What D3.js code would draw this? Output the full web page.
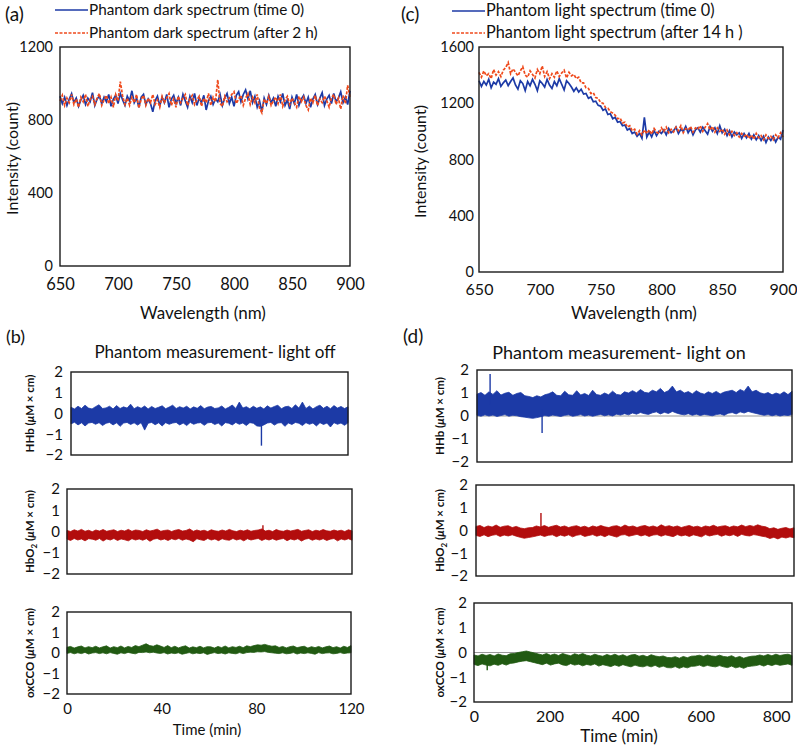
<!DOCTYPE html>
<html><head><meta charset="utf-8">
<script src="https://cdn.jsdelivr.net/npm/d3@7"></script>
<style>
body{margin:0;background:#fff}
text{font-family:Lato,"Open Sans",sans-serif;fill:#111}
</style>
</head><body>
<svg id="c" width="797" height="747"></svg>
<script>
// ---------- DATA ----------
// Spectra sampled every 2 nm from 650 to 900 nm
const wavelengths = d3.range(650, 901, 2);
const wlTicks = [650, 700, 750, 800, 850, 900];
const darkTicks = [0, 400, 800, 1200];
const lightTicks = [0, 400, 800, 1200, 1600];

const darkTime0 = [
930,890,925,880,915,945,895,920,875,910,
935,885,920,900,950,880,915,930,890,925,
900,940,875,915,935,890,945,910,880,930,
905,960,895,920,870,925,940,885,915,890,
845,905,930,880,925,895,940,870,915,935,
890,925,880,940,905,870,930,895,945,880,
920,895,935,855,905,930,885,915,900,940,
880,920,945,890,925,875,935,955,900,940,
965,915,960,895,930,870,905,845,920,885,
935,895,920,875,930,900,945,880,910,860,
925,890,940,880,915,935,890,925,870,915,
940,885,920,950,880,915,935,890,945,900,
920,955,895,925,885,960];
const dark2h = [
905,935,880,920,895,940,885,915,870,925,
900,940,875,915,930,885,920,945,880,910,
935,890,925,870,940,905,1010,930,885,920,
880,925,895,940,865,915,935,880,920,895,
940,885,910,870,930,895,920,945,880,915,
870,930,895,920,940,880,915,935,885,910,
930,875,920,895,945,880,925,900,1020,890,
875,930,900,920,940,955,890,915,935,880,
920,945,885,925,895,940,865,840,915,890,
930,880,905,925,890,940,875,910,930,885,
920,895,870,930,900,925,880,855,920,895,
935,880,915,895,930,905,870,920,940,885,
920,860,935,890,990,925];
const lightTime0 = [
1360,1320,1355,1330,1370,1310,1350,1335,1375,1320,
1345,1365,1325,1355,1380,1330,1300,1360,1340,1290,
1355,1325,1370,1335,1290,1360,1340,1315,1370,1330,
1305,1355,1325,1375,1335,1295,1360,1340,1315,1285,
1310,1280,1300,1265,1270,1235,1245,1210,1215,1185,
1180,1150,1160,1120,1125,1090,1100,1065,1070,1040,
1045,1010,1020,985,995,965,985,950,1100,960,
995,960,1005,970,1000,985,1010,975,1020,990,
1005,1030,985,1015,1000,1035,990,1020,975,1010,
1025,995,1030,1005,980,1035,1000,1025,985,1040,
990,1015,970,1005,960,995,975,990,950,985,
955,985,945,975,940,970,935,965,920,960,
935,965,925,960,945,1010];
const light14h = [
1420,1385,1430,1395,1410,1375,1440,1400,1425,1390,
1435,1455,1490,1410,1445,1420,1395,1430,1460,1400,
1385,1430,1405,1380,1440,1410,1465,1390,1425,1375,
1410,1385,1430,1390,1415,1435,1380,1420,1395,1405,
1375,1385,1345,1345,1310,1305,1270,1275,1240,1235,
1205,1200,1170,1165,1140,1130,1115,1090,1095,1060,
1065,1030,1040,1005,1015,980,1005,975,1010,985,
1010,980,1020,995,985,1025,1000,1030,990,1015,
995,1030,1005,1040,990,1020,1010,1035,995,1025,
1015,1040,1000,1030,1055,1010,1035,995,1025,1000,
1015,980,1010,975,1000,970,990,960,985,965,
980,950,975,945,985,955,970,940,975,950,
965,940,975,955,990,960];

// Time series: upper / lower envelope of the noise band, equally spaced in time
const concTicks = [-2, -1, 0, 1, 2];
const offTimeTicks = [0, 40, 80, 120];
const onTimeTicks = [0, 200, 400, 600, 800];
const offDuration = 120;
const onDuration = 842;

const offHHbHi = [0.30,0.22,0.35,0.24,0.40,0.26,0.22,0.33,0.42,0.24,0.27,0.35,0.22,0.38,0.24,0.32,0.26,0.45,0.23,0.33,0.25,0.36,0.22,0.34,0.24,0.30,0.37,0.23,0.31,0.40,0.24,0.33,0.26,0.35,0.22,0.32,0.25,0.38,0.23,0.31,0.34,0.24,0.27,0.36,0.22,0.30,0.41,0.24,0.55,0.26,0.33,0.23,0.35,0.25,0.32,0.22,0.37,0.26,0.34,0.40,0.23,0.32,0.35,0.24,0.42,0.26,0.55,0.24,0.36,0.22,0.33,0.40,0.25,0.35,0.23,0.38,0.26,0.34,0.24,0.32];
const offHHbLo = [-0.50,-0.42,-0.55,-0.45,-0.60,-0.46,-0.43,-0.52,-0.44,-0.58,-0.47,-0.43,-0.55,-0.45,-0.62,-0.46,-0.43,-0.53,-0.45,-0.56,-0.44,-0.80,-0.47,-0.43,-0.54,-0.45,-0.60,-0.44,-0.52,-0.46,-0.43,-0.55,-0.46,-0.58,-0.43,-0.52,-0.46,-0.44,-0.57,-0.45,-0.43,-0.53,-0.46,-0.60,-0.44,-0.47,-0.55,-0.43,-0.52,-0.46,-0.58,-0.44,-0.47,-0.60,-0.62,-0.55,-0.46,-0.43,-0.56,-0.46,-0.44,-0.62,-0.46,-0.53,-0.43,-0.47,-0.58,-0.44,-0.52,-0.46,-0.60,-0.44,-0.53,-0.46,-0.65,-0.44,-0.52,-0.46,-0.57,-0.45];
const offHHbSpikes = [[82.5, -0.3, -1.55]];

const offHbO2Hi = [0.05,0.00,0.08,0.02,0.10,0.01,0.06,-0.01,0.07,0.02,0.09,0.01,0.05,0.08,0.00,0.06,0.02,0.10,0.01,0.07,0.05,0.00,0.08,0.02,0.06,0.11,0.01,0.05,0.07,0.00,0.06,0.09,0.02,0.05,0.12,0.01,0.07,0.02,0.06,0.00,0.08,0.03,0.01,0.07,0.02,0.10,0.03,0.00,0.06,0.02,0.08,0.01,0.05,0.07,0.12,0.02,0.06,0.00,0.09,0.03,0.01,0.07,0.02,0.06,0.10,0.01,0.05,0.08,0.00,0.06,0.02,0.09,0.03,0.01,0.07,0.02,0.06,0.00,0.08,0.03];
const offHbO2Lo = [-0.36,-0.42,-0.33,-0.40,-0.35,-0.44,-0.34,-0.36,-0.41,-0.33,-0.45,-0.35,-0.40,-0.33,-0.42,-0.35,-0.39,-0.44,-0.34,-0.40,-0.35,-0.41,-0.34,-0.46,-0.36,-0.33,-0.40,-0.35,-0.42,-0.34,-0.39,-0.33,-0.41,-0.35,-0.40,-0.48,-0.34,-0.39,-0.42,-0.33,-0.40,-0.35,-0.43,-0.34,-0.39,-0.41,-0.33,-0.40,-0.35,-0.44,-0.34,-0.40,-0.36,-0.33,-0.42,-0.35,-0.40,-0.34,-0.41,-0.36,-0.33,-0.43,-0.35,-0.40,-0.34,-0.45,-0.36,-0.33,-0.41,-0.35,-0.40,-0.34,-0.42,-0.36,-0.33,-0.44,-0.35,-0.40,-0.34,-0.41];
const offHbO2Spikes = [[82.5, 0.0, 0.3]];

const offOxHi = [0.28,0.32,0.24,0.30,0.34,0.25,0.31,0.26,0.33,0.25,0.30,0.35,0.24,0.31,0.26,0.34,0.25,0.32,0.27,0.36,0.31,0.38,0.45,0.36,0.33,0.40,0.34,0.27,0.36,0.26,0.33,0.25,0.31,0.35,0.24,0.30,0.26,0.33,0.25,0.31,0.30,0.24,0.32,0.26,0.34,0.25,0.31,0.27,0.33,0.26,0.35,0.31,0.36,0.40,0.38,0.42,0.37,0.33,0.35,0.27,0.32,0.25,0.31,0.34,0.26,0.30,0.33,0.24,0.31,0.26,0.32,0.25,0.30,0.34,0.26,0.31,0.24,0.33,0.27,0.36];
const offOxLo = [-0.02,0.02,-0.04,0.01,-0.03,0.03,-0.05,0.00,0.02,-0.03,0.01,-0.04,0.02,-0.02,-0.06,0.01,-0.03,0.03,-0.01,-0.04,0.03,0.02,0.05,0.01,0.04,0.00,-0.02,0.02,-0.05,0.00,-0.03,0.01,-0.06,-0.02,0.02,-0.04,0.00,-0.03,0.01,-0.07,-0.02,0.02,-0.03,0.00,-0.05,0.01,-0.02,-0.04,0.02,-0.03,0.02,0.04,0.03,0.06,0.05,0.07,0.03,0.01,-0.01,-0.03,0.01,-0.04,-0.02,0.02,-0.05,0.00,-0.03,0.01,-0.02,-0.06,0.02,-0.03,0.00,0.01,-0.04,-0.02,0.02,-0.03,0.00,0.01];
const offOxSpikes = [];

const onHHbHi = [0.95,1.02,0.90,1.05,0.94,1.10,0.91,0.99,1.03,0.90,0.98,1.02,0.88,0.85,0.80,0.88,0.83,0.92,0.97,1.05,0.90,0.88,1.08,0.92,0.90,1.10,0.91,0.98,0.89,1.12,0.93,0.90,1.00,0.92,1.08,0.94,0.91,1.05,1.00,1.10,1.01,1.15,1.03,1.00,1.12,1.05,1.20,1.02,1.10,1.30,1.05,1.12,1.00,1.06,0.96,1.10,1.00,0.95,1.05,0.98,1.07,0.96,1.04,1.08,1.12,1.02,1.15,1.07,1.30,1.05,1.12,1.01,0.96,1.02,0.92,1.00,0.94,1.05,0.93,1.08];
const onHHbLo = [0.03,-0.01,0.05,0.00,0.04,-0.02,0.02,0.06,-0.01,0.03,0.01,-0.03,-0.05,-0.08,-0.10,-0.07,-0.03,0.02,-0.01,0.04,0.01,-0.02,0.03,0.05,-0.01,0.02,0.06,0.00,0.04,-0.01,0.03,0.07,0.01,0.05,0.00,0.08,0.04,0.10,0.05,0.13,0.08,0.15,0.10,0.07,0.14,0.18,0.09,0.16,0.11,0.20,0.13,0.08,0.05,0.10,0.03,0.08,0.02,0.07,0.04,0.01,0.06,0.09,0.03,0.12,0.15,0.09,0.18,0.13,0.20,0.15,0.11,0.07,0.03,0.06,0.01,0.05,0.00,0.04,0.02,0.06];
const onHHbSpikes = [[35, 0.5, 1.83], [174, 0.3, -0.74]];

const onHbO2Hi = [0.18,0.22,0.13,0.20,0.15,0.24,0.14,0.19,0.21,0.13,0.18,0.11,0.08,0.12,0.13,0.20,0.15,0.22,0.14,0.19,0.23,0.15,0.20,0.13,0.18,0.21,0.14,0.19,0.12,0.20,0.15,0.22,0.16,0.13,0.19,0.21,0.14,0.24,0.16,0.20,0.13,0.19,0.22,0.15,0.20,0.14,0.25,0.17,0.21,0.15,0.20,0.13,0.18,0.22,0.15,0.19,0.13,0.20,0.16,0.23,0.15,0.19,0.21,0.14,0.20,0.16,0.24,0.17,0.22,0.18,0.25,0.19,0.16,0.08,0.12,0.05,0.10,0.13,0.07,0.12];
const onHbO2Lo = [-0.22,-0.26,-0.19,-0.27,-0.21,-0.18,-0.26,-0.20,-0.24,-0.19,-0.25,-0.30,-0.34,-0.31,-0.28,-0.24,-0.20,-0.26,-0.21,-0.19,-0.27,-0.20,-0.25,-0.19,-0.28,-0.21,-0.18,-0.26,-0.22,-0.18,-0.25,-0.20,-0.27,-0.19,-0.24,-0.29,-0.20,-0.18,-0.25,-0.21,-0.17,-0.24,-0.19,-0.26,-0.20,-0.18,-0.25,-0.19,-0.23,-0.27,-0.18,-0.24,-0.20,-0.26,-0.19,-0.23,-0.28,-0.18,-0.24,-0.20,-0.17,-0.25,-0.19,-0.23,-0.18,-0.26,-0.17,-0.22,-0.24,-0.18,-0.21,-0.25,-0.28,-0.35,-0.30,-0.37,-0.29,-0.33,-0.28,-0.32];
const onHbO2Spikes = [[172, 0.1, 0.77]];

const onOxHi = [-0.10,-0.14,-0.07,-0.12,-0.08,-0.14,-0.06,-0.11,-0.13,-0.05,-0.04,0.00,0.03,0.06,0.02,-0.02,-0.06,-0.10,-0.04,-0.11,-0.06,-0.12,-0.04,-0.09,-0.13,-0.05,-0.10,-0.04,-0.11,-0.14,-0.07,-0.12,-0.15,-0.08,-0.13,-0.07,-0.14,-0.09,-0.16,-0.10,-0.08,-0.15,-0.11,-0.17,-0.09,-0.14,-0.17,-0.14,-0.20,-0.21,-0.17,-0.23,-0.16,-0.21,-0.15,-0.14,-0.11,-0.16,-0.10,-0.14,-0.16,-0.11,-0.16,-0.18,-0.13,-0.21,-0.16,-0.23,-0.18,-0.15,-0.14,-0.10,-0.14,-0.08,-0.13,-0.07,-0.12,-0.09,-0.07,-0.12];
const onOxLo = [-0.48,-0.53,-0.46,-0.51,-0.54,-0.47,-0.52,-0.45,-0.51,-0.44,-0.42,-0.38,-0.35,-0.33,-0.37,-0.41,-0.45,-0.49,-0.43,-0.51,-0.46,-0.43,-0.50,-0.53,-0.45,-0.51,-0.47,-0.54,-0.48,-0.52,-0.46,-0.55,-0.49,-0.53,-0.57,-0.50,-0.56,-0.49,-0.54,-0.58,-0.51,-0.56,-0.58,-0.53,-0.58,-0.52,-0.60,-0.55,-0.61,-0.62,-0.57,-0.64,-0.58,-0.62,-0.56,-0.55,-0.51,-0.57,-0.52,-0.56,-0.58,-0.53,-0.58,-0.61,-0.55,-0.62,-0.58,-0.64,-0.57,-0.55,-0.53,-0.49,-0.55,-0.48,-0.53,-0.47,-0.52,-0.49,-0.46,-0.52];
const onOxSpikes = [[35, -0.4, -0.72]];

// ---------- DRAWING ----------
const svg = d3.select("#c");
const BLUE = "#1c3aa6", ORANGE = "#ef4a1c", DARKRED = "#b20d0d", GREEN = "#215a12";

function txt(x, y, s, size, opts = {}) {
  const t = svg.append("text").attr("x", x).attr("y", y).style("font-size", size + "px")
    .attr("text-anchor", opts.anchor || "start");
  if (opts.weight) t.style("font-weight", opts.weight);
  if (opts.rotate) t.attr("transform", `rotate(-90,${x},${y})`);
  t.text(s);
  return t;
}

function spectrumPanel(p) {
  const x = d3.scaleLinear().domain([650, 900]).range([p.x0, p.x1]);
  const y = d3.scaleLinear().domain([0, p.yMax]).range([p.y1, p.y0]);
  const gy = svg.append("g").attr("transform", `translate(${p.x0},0)`)
    .call(d3.axisLeft(y).tickValues(p.yTicks).tickSize(0).tickPadding(p.yPad).tickFormat(d3.format("d")));
  gy.select(".domain").remove();
  gy.selectAll("text").style("font-size", p.yFont + "px");
  const gx = svg.append("g").attr("transform", `translate(0,${p.y1})`)
    .call(d3.axisBottom(x).tickValues(wlTicks).tickSize(0).tickPadding(p.xPad).tickFormat(d3.format("d")));
  gx.select(".domain").remove();
  gx.selectAll("text").style("font-size", p.xFont + "px");
  const line = d3.line().x((d, i) => x(wavelengths[i])).y(d => y(d));
  svg.append("path").datum(p.blue).attr("d", line).attr("fill", "none")
    .attr("stroke", BLUE).attr("stroke-width", 1.7).attr("stroke-linejoin", "miter");
  svg.append("path").datum(p.red).attr("d", line).attr("fill", "none")
    .attr("stroke", ORANGE).attr("stroke-width", 1.7).attr("stroke-dasharray", "3,1.5");
  svg.append("rect").attr("x", p.x0).attr("y", p.y0).attr("width", p.x1 - p.x0).attr("height", p.y1 - p.y0)
    .attr("fill", "none").attr("stroke", "#1a1a1a").attr("stroke-width", 1.4);
  // legend
  const L = p.legend;
  svg.append("line").attr("x1", L.x).attr("x2", L.x + 33).attr("y1", L.y1).attr("y2", L.y1)
    .attr("stroke", BLUE).attr("stroke-width", 1.7);
  svg.append("line").attr("x1", L.x).attr("x2", L.x + 33).attr("y1", L.y2).attr("y2", L.y2)
    .attr("stroke", ORANGE).attr("stroke-width", 1.7).attr("stroke-dasharray", "3,1.5");
  txt(L.x + 34, L.y1 + 5, L.t1, L.size);
  txt(L.x + 34, L.y2 + 5, L.t2, L.size);
  txt(p.yTitleX, (p.y0 + p.y1) / 2 + 2, "Intensity (count)", p.titleFont, {anchor: "middle", rotate: true});
  txt(p.xTitleX, 319, "Wavelength (nm)", p.titleFont + 1, {anchor: "middle"});
}

spectrumPanel({x0: 60, x1: 350, y0: 47, y1: 266, yMax: 1200, yTicks: darkTicks, yPad: 7, xPad: 12,
  yFont: 14.5, xFont: 16.5, blue: darkTime0, red: dark2h, titleFont: 16, yTitleX: 18, xTitleX: 203,
  legend: {x: 55, y1: 10, y2: 33, size: 15.3, t1: "Phantom dark spectrum (time 0)", t2: "Phantom dark spectrum (after 2 h)"}});
spectrumPanel({x0: 479, x1: 783, y0: 47, y1: 272, yMax: 1600, yTicks: lightTicks, yPad: 5, xPad: 12,
  yFont: 14.5, xFont: 16, blue: lightTime0, red: light14h, titleFont: 16, yTitleX: 426, xTitleX: 634,
  legend: {x: 452, y1: 11, y2: 33, size: 16.3, t1: "Phantom light spectrum (time 0)", t2: "Phantom light spectrum (after 14 h )"}});

function yLabel(x, y, main, sub, size) {
  const t = svg.append("text").attr("x", x).attr("y", y).attr("text-anchor", "middle")
    .attr("transform", `rotate(-90,${x},${y})`).style("font-size", size + "px").style("font-weight", "bold");
  t.append("tspan").text(main);
  if (sub) {
    t.append("tspan").text(sub).attr("dy", 3).style("font-size", (size * 0.7) + "px");
    t.append("tspan").text(" (").attr("dy", -3);
  } else {
    t.append("tspan").text(" (");
  }
  t.append("tspan").text("\u03bc").style("font-style", "italic");
  t.append("tspan").text("M \u00d7 cm)");
}

function tsPanel(p) {
  const n = p.hi.length;
  const x = d3.scaleLinear().domain([0, p.T]).range([p.x0, p.x1]);
  const y = d3.scaleLinear().domain([-2, 2]).range([p.y1, p.y0]);
  const tAt = i => i * p.T / (n - 1);
  if (p.zero) {
    svg.append("line").attr("x1", p.x0).attr("x2", p.x1).attr("y1", y(0)).attr("y2", y(0))
      .attr("stroke", "#9a9a9a").attr("stroke-width", 1.2);
  }
  const area = d3.area().x((d, i) => x(tAt(i))).y0((d, i) => y(p.lo[i])).y1(d => y(d));
  svg.append("path").datum(p.hi).attr("d", area).attr("fill", p.color)
    .attr("stroke", p.color).attr("stroke-width", 0.8).attr("stroke-linejoin", "miter");
  p.spikes.forEach(s => {
    svg.append("line").attr("x1", x(s[0])).attr("x2", x(s[0])).attr("y1", y(s[1])).attr("y2", y(s[2]))
      .attr("stroke", p.color).attr("stroke-width", 1.4);
  });
  const gy = svg.append("g").attr("transform", `translate(${p.x0},0)`)
    .call(d3.axisLeft(y).tickValues(concTicks).tickSize(0).tickPadding(p.yPad).tickFormat(d3.format("d")));
  gy.select(".domain").remove();
  gy.selectAll("text").style("font-size", p.font + "px");
  if (p.xTicks) {
    const gx = svg.append("g").attr("transform", `translate(0,${p.y1})`)
      .call(d3.axisBottom(x).tickValues(p.xTicks).tickSize(0).tickPadding(p.xPad).tickFormat(d3.format("d")));
    gx.select(".domain").remove();
    gx.selectAll("text").style("font-size", p.xFont + "px");
  }
  svg.append("rect").attr("x", p.x0).attr("y", p.y0).attr("width", p.x1 - p.x0).attr("height", p.y1 - p.y0)
    .attr("fill", "none").attr("stroke", "#1a1a1a").attr("stroke-width", 1.4);
  yLabel(p.labelX, (p.y0 + p.y1) / 2, p.main, p.sub, 11.5);
}

// (b) light off
tsPanel({x0: 71, x1: 348, y0: 372, y1: 455, T: offDuration, hi: offHHbHi, lo: offHHbLo, spikes: offHHbSpikes,
  color: BLUE, yPad: 8, font: 15, labelX: 34, main: "HHb"});
tsPanel({x0: 67, x1: 352, y0: 489, y1: 574, T: offDuration, hi: offHbO2Hi, lo: offHbO2Lo, spikes: offHbO2Spikes,
  color: DARKRED, yPad: 7, font: 15, labelX: 34, main: "HbO", sub: "2"});
tsPanel({x0: 67, x1: 351, y0: 612, y1: 694, T: offDuration, hi: offOxHi, lo: offOxLo, spikes: offOxSpikes,
  color: GREEN, yPad: 7, font: 15, labelX: 34, main: "oxCCO", xTicks: offTimeTicks, xPad: 9, xFont: 15});

// (d) light on
tsPanel({x0: 477, x1: 792, y0: 370, y1: 462, T: onDuration, hi: onHHbHi, lo: onHHbLo, spikes: onHHbSpikes,
  color: BLUE, yPad: 8, font: 15, labelX: 444, main: "HHb", zero: true});
tsPanel({x0: 476, x1: 794, y0: 485, y1: 576, T: onDuration, hi: onHbO2Hi, lo: onHbO2Lo, spikes: onHbO2Spikes,
  color: DARKRED, yPad: 8, font: 15, labelX: 444, main: "HbO", sub: "2"});
tsPanel({x0: 474, x1: 792, y0: 603, y1: 702, T: onDuration, hi: onOxHi, lo: onOxLo, spikes: onOxSpikes,
  color: GREEN, yPad: 7, font: 15, labelX: 444, main: "oxCCO", zero: true, xTicks: onTimeTicks, xPad: 9, xFont: 16});

// titles & panel letters
txt(5, 21, "(a)", 19);
txt(401, 21, "(c)", 19);
txt(6, 343, "(b)", 18);
txt(403, 343, "(d)", 19);
txt(215, 358, "Phantom measurement- light off", 17, {anchor: "middle"});
txt(619, 359, "Phantom measurement- light on", 18, {anchor: "middle"});
txt(207, 735, "Time (min)", 15, {anchor: "middle"});
txt(619, 742, "Time (min)", 17, {anchor: "middle"});
</script>
</body></html>
